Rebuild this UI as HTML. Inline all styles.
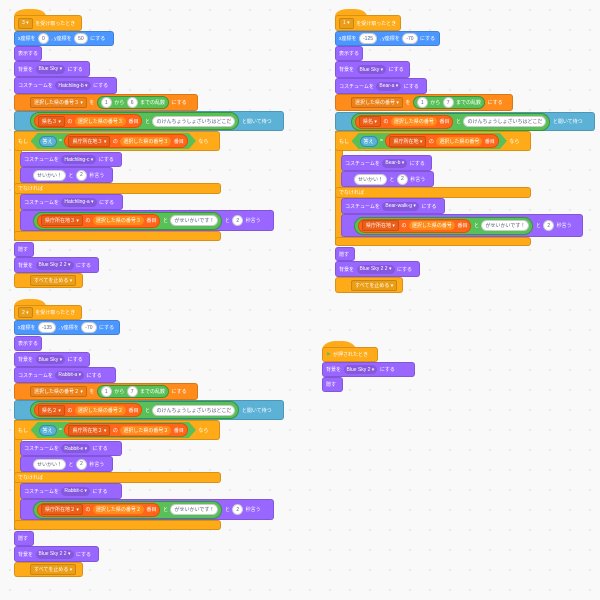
<!DOCTYPE html>
<html><head><meta charset="utf-8"><style>
body{margin:0;width:600px;height:600px;overflow:hidden;background:#f9f9f9;
background-image:radial-gradient(#e4e4e4 0.8px,transparent 0.9px);background-size:20px 20px;
font-family:"Liberation Sans","Noto Sans CJK JP",sans-serif}
.s{position:absolute}
.b{position:absolute;box-sizing:border-box;display:flex;align-items:center;gap:2.5px;padding-left:3px;padding-right:3px;min-width:fit-content;
font-size:5px;color:#fff;white-space:nowrap;border-radius:3px;border:0.6px solid rgba(0,0,0,.15)}
.m{background:#4C97FF}.l{background:#9966FF}.e{background:#FFAB19}.v{background:#FF8C1A}
.k{background:#5CB1D6}
.g{background:#59C059;border-radius:9px;height:14px;display:flex;align-items:center;gap:2.5px;padding:0 3px;border:0.6px solid #389438}
.r{background:#FF661A;border-radius:8px;height:12px;display:flex;align-items:center;gap:2.5px;padding:0 3px;border:0.6px solid #E64D00}
.r2{background:#FF8C1A;border-radius:6px;height:9px;display:flex;align-items:center;padding:0 3px}
.p{background:#fff;color:#575E75;border-radius:6px;height:9px;display:flex;align-items:center;padding:0 3px;border:0.5px solid #ccc}
.dd{border-radius:6px;height:9px;display:flex;align-items:center;padding:0 3px;background:rgba(0,0,0,.13)}
.dr{border-radius:2px;height:9px;display:flex;align-items:center;padding:0 3px;background:rgba(0,0,0,.08);border:0.5px solid rgba(0,0,0,.15)}
.ans{background:#5CB1D6;border-radius:6px;height:9px;display:flex;align-items:center;padding:0 3px;border:0.5px solid #2E8EB8}
.hex{background:#59C059;height:16px;display:flex;align-items:center;gap:2.5px;padding:0 8px;clip-path:polygon(7px 0,calc(100% - 7px) 0,100% 50%,calc(100% - 7px) 100%,7px 100%,0 50%)}
.cap{position:absolute;left:0;top:-6px;width:32px;height:14px;border-radius:50%/60%;background:#FFAB19}
</style></head><body>

<!-- Script A -->
<div class="s" style="left:14px;top:0">
<div class="cap" style="top:9px"></div>
<div class="b e" style="top:15px;width:68px;height:16px"><span class="dr">3 ▾</span>を受け取ったとき</div>
<div class="b m" style="top:31px;width:100px;height:15px">x座標を<span class="p">0</span>, y座標を<span class="p">50</span>にする</div>
<div class="b l" style="top:46px;width:26px;height:15px">表示する</div>
<div class="b l" style="top:61px;width:76px;height:16px">背景を<span class="dd">Blue Sky ▾</span>にする</div>
<div class="b l" style="top:77px;width:103px;height:17px">コスチュームを<span class="dd">Hatchling-b ▾</span>にする</div>
<div class="b v" style="top:94px;width:184px;height:17px;padding-left:15px"><span class="dr">選択した県の番号３ ▾</span>を<span class="g" style="height:11px"><span class="p">1</span>から<span class="p">6</span>までの乱数</span>にする</div>
<div class="b k" style="top:111px;width:270px;height:20px;padding-left:15px"><span class="g" style="height:16px"><span class="r"><span class="dr">県名３ ▾</span>の<span class="r2">選択した県の番号３</span>番目</span>と<span class="p">のけんちょうしょざいちはどこだ</span></span>と聞いて待つ</div>
<div class="b e" style="top:131px;width:7px;min-width:0;height:110px;border-radius:0"></div>
<div class="b e" style="top:131px;width:206px;height:20px">もし<span class="hex"><span class="ans">答え</span>=<span class="r"><span class="dr">県庁所在地３ ▾</span>の<span class="r2">選択した県の番号３</span>番目</span></span>なら</div>
<div class="b l" style="top:152px;left:6px;width:102px;height:15px">コスチュームを<span class="dd">Hatchling-c ▾</span>にする</div>
<div class="b l" style="top:167px;left:6px;width:93px;height:16px;padding-left:12px"><span class="p">せいかい！</span>と<span class="p">2</span>秒言う</div>
<div class="b e" style="top:183px;width:207px;height:11px">でなければ</div>
<div class="b l" style="top:194px;left:6px;width:103px;height:16px">コスチュームを<span class="dd">Hatchling-a ▾</span>にする</div>
<div class="b l" style="top:210px;left:6px;width:254px;height:21px;padding-left:12px"><span class="g" style="height:16px"><span class="r"><span class="dr">県庁所在地３ ▾</span>の<span class="r2">選択した県の番号３</span>番目</span>と<span class="p">がせいかいです！</span></span>と<span class="p">2</span>秒言う</div>
<div class="b e" style="top:231px;width:207px;height:10px"></div>
<div class="b l" style="top:242px;width:20px;height:15px">隠す</div>
<div class="b l" style="top:257px;width:85px;height:16px">背景を<span class="dd">Blue Sky 2 2 ▾</span>にする</div>
<div class="b e" style="top:273px;width:69px;height:15px;padding-left:15px"><span class="dr">すべてを止める ▾</span></div>
</div>

<!-- Script B -->
<div class="s" style="left:335px;top:0">
<div class="cap" style="top:9px"></div>
<div class="b e" style="top:15px;width:66px;height:16px"><span class="dr">1 ▾</span>を受け取ったとき</div>
<div class="b m" style="top:31px;width:105px;height:15px">x座標を<span class="p">-125</span>, y座標を<span class="p">-70</span>にする</div>
<div class="b l" style="top:46px;width:26px;height:15px">表示する</div>
<div class="b l" style="top:61px;width:75px;height:17px">背景を<span class="dd">Blue Sky ▾</span>にする</div>
<div class="b l" style="top:78px;width:92px;height:16px">コスチュームを<span class="dd">Bear-a ▾</span>にする</div>
<div class="b v" style="top:94px;width:178px;height:17px;padding-left:15px"><span class="dr">選択した県の番号 ▾</span>を<span class="g" style="height:11px"><span class="p">1</span>から<span class="p">7</span>までの乱数</span>にする</div>
<div class="b k" style="top:112px;width:260px;height:19px;padding-left:15px"><span class="g" style="height:16px"><span class="r"><span class="dr">県名 ▾</span>の<span class="r2">選択した県の番号</span>番目</span>と<span class="p">のけんちょうしょざいちはどこだ</span></span>と聞いて待つ</div>
<div class="b e" style="top:131px;width:7px;min-width:0;height:114px;border-radius:0"></div>
<div class="b e" style="top:131px;width:196px;height:20px">もし<span class="hex"><span class="ans">答え</span>=<span class="r"><span class="dr">県庁所在地 ▾</span>の<span class="r2">選択した県の番号</span>番目</span></span>なら</div>
<div class="b l" style="top:155px;left:6px;width:91px;height:16px">コスチュームを<span class="dd">Bear-b ▾</span>にする</div>
<div class="b l" style="top:171px;left:6px;width:93px;height:16px;padding-left:12px"><span class="p">せいかい！</span>と<span class="p">2</span>秒言う</div>
<div class="b e" style="top:187px;width:196px;height:11px">でなければ</div>
<div class="b l" style="top:198px;left:6px;width:104px;height:16px">コスチュームを<span class="dd">Bear-walk-g ▾</span>にする</div>
<div class="b l" style="top:214px;left:6px;width:242px;height:23px;padding-left:12px"><span class="g" style="height:16px"><span class="r"><span class="dr">県庁所在地 ▾</span>の<span class="r2">選択した県の番号</span>番目</span>と<span class="p">がせいかいです！</span></span>と<span class="p">2</span>秒言う</div>
<div class="b e" style="top:237px;width:196px;height:9px"></div>
<div class="b l" style="top:247px;width:20px;height:14px">隠す</div>
<div class="b l" style="top:261px;width:85px;height:16px">背景を<span class="dd">Blue Sky 2 2 ▾</span>にする</div>
<div class="b e" style="top:277px;width:68px;height:16px;padding-left:15px"><span class="dr">すべてを止める ▾</span></div>
</div>

<!-- Script C -->
<div class="s" style="left:14px;top:290px">
<div class="cap" style="top:9px"></div>
<div class="b e" style="top:15px;width:68px;height:15px"><span class="dr">2 ▾</span>を受け取ったとき</div>
<div class="b m" style="top:30px;width:106px;height:15px">x座標を<span class="p">-135</span>, y座標を<span class="p">-70</span>にする</div>
<div class="b l" style="top:46px;width:26px;height:15px">表示する</div>
<div class="b l" style="top:62px;width:76px;height:15px">背景を<span class="dd">Blue Sky ▾</span>にする</div>
<div class="b l" style="top:77px;width:102px;height:16px">コスチュームを<span class="dd">Rabbit-a ▾</span>にする</div>
<div class="b v" style="top:93px;width:184px;height:17px;padding-left:15px"><span class="dr">選択した県の番号２ ▾</span>を<span class="g" style="height:11px"><span class="p">1</span>から<span class="p">7</span>までの乱数</span>にする</div>
<div class="b k" style="top:110px;width:270px;height:20px;padding-left:15px"><span class="g" style="height:16px"><span class="r"><span class="dr">県名２ ▾</span>の<span class="r2">選択した県の番号２</span>番目</span>と<span class="p">のけんちょうしょざいちはどこだ</span></span>と聞いて待つ</div>
<div class="b e" style="top:130px;width:7px;min-width:0;height:110px;border-radius:0"></div>
<div class="b e" style="top:130px;width:206px;height:20px">もし<span class="hex"><span class="ans">答え</span>=<span class="r"><span class="dr">県庁所在地２ ▾</span>の<span class="r2">選択した県の番号２</span>番目</span></span>なら</div>
<div class="b l" style="top:151px;left:6px;width:102px;height:15px">コスチュームを<span class="dd">Rabbit-e ▾</span>にする</div>
<div class="b l" style="top:166px;left:6px;width:93px;height:16px;padding-left:12px"><span class="p">せいかい！</span>と<span class="p">2</span>秒言う</div>
<div class="b e" style="top:182px;width:207px;height:11px">でなければ</div>
<div class="b l" style="top:193px;left:6px;width:102px;height:16px">コスチュームを<span class="dd">Rabbit-c ▾</span>にする</div>
<div class="b l" style="top:209px;left:6px;width:254px;height:21px;padding-left:12px"><span class="g" style="height:16px"><span class="r"><span class="dr">県庁所在地２ ▾</span>の<span class="r2">選択した県の番号２</span>番目</span>と<span class="p">がせいかいです！</span></span>と<span class="p">2</span>秒言う</div>
<div class="b e" style="top:230px;width:207px;height:10px"></div>
<div class="b l" style="top:241px;width:20px;height:15px">隠す</div>
<div class="b l" style="top:256px;width:85px;height:16px">背景を<span class="dd">Blue Sky 2 2 ▾</span>にする</div>
<div class="b e" style="top:272px;width:69px;height:15px;padding-left:15px"><span class="dr">すべてを止める ▾</span></div>
</div>

<!-- Script D -->
<div class="s" style="left:322px;top:330px">
<div class="cap" style="top:11px;width:34px;height:18px"></div>
<div class="b e" style="top:17px;width:56px;height:15px"><span style="color:#4CBF56">⚑</span>が押されたとき</div>
<div class="b l" style="top:32px;width:93px;height:15px">背景を<span class="dd">Blue Sky 2 ▾</span>にする</div>
<div class="b l" style="top:47px;width:21px;height:15px">隠す</div>
</div>

</body></html>
